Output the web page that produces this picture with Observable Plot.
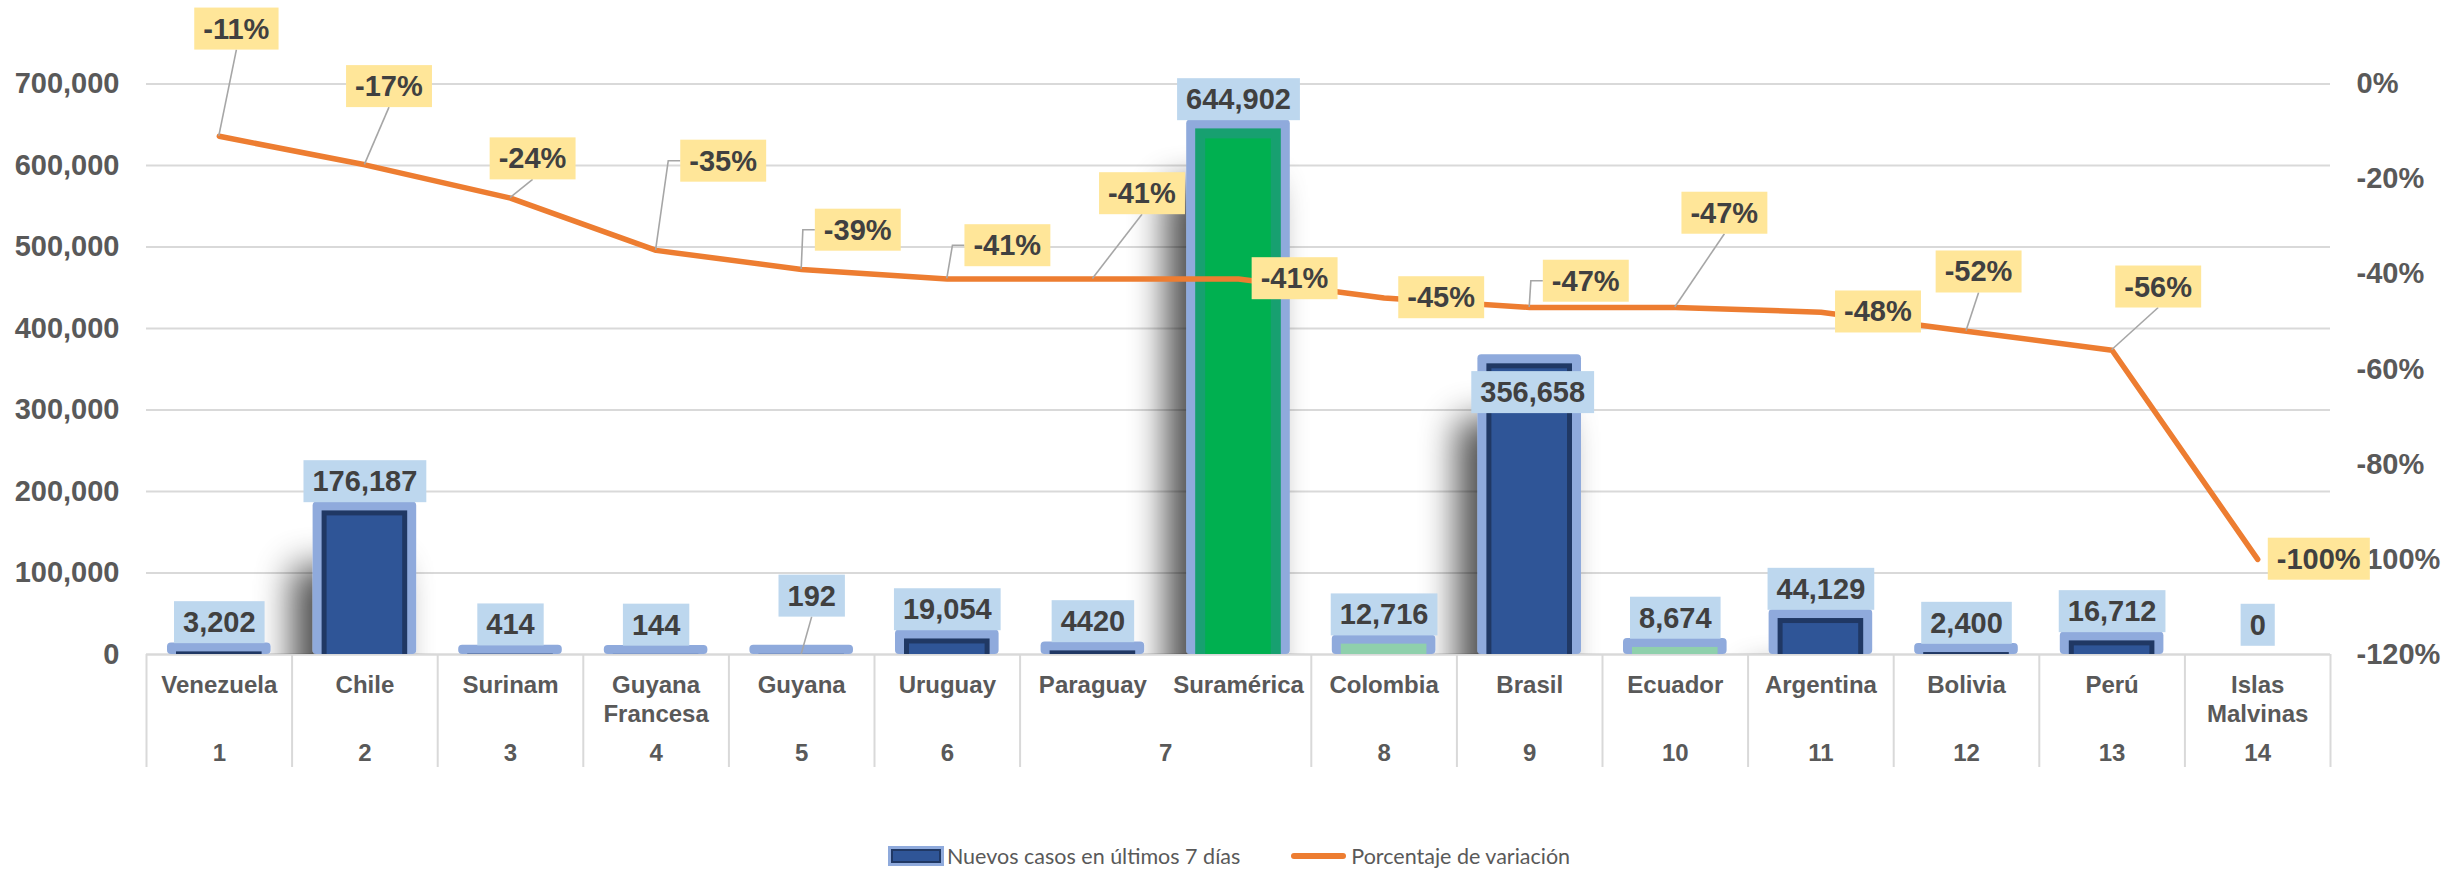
<!DOCTYPE html>
<html>
<head>
<meta charset="utf-8">
<script src="https://cdn.jsdelivr.net/npm/d3@7"></script>
<script src="https://cdn.jsdelivr.net/npm/@observablehq/plot@0.6"></script>
<style>
  html, body { margin: 0; padding: 0; background: #fff; overflow: hidden; }
  #chart svg { display: block; }
  #legend { height: 32px; display: flex; justify-content: center; align-items: center;
            font-family: Lato, "Open Sans", sans-serif; font-size: 21.5px; color: #595959; }
  #legend .item { display: flex; align-items: center; }
  #legend .sw-bar { width: 50px; height: 14px; background: #2F5597; border: 3px solid #8FAADC;
                    box-shadow: inset 0 0 0 2px #203864; margin-right: 3px; }
  #legend .sw-line { width: 55px; height: 6px; border-radius: 3px; background: #ED7D31; margin-right: 5px; }
  #legend .gap { width: 51px; }
</style>
</head>
<body>
<div id="chart"></div>
<div id="legend"></div>
<script>
// ---------- data ----------
const countries = ["Venezuela", "Chile", "Surinam", "Guyana\nFrancesa", "Guyana", "Uruguay", "Paraguay",
  "Suramérica", "Colombia", "Brasil", "Ecuador", "Argentina", "Bolivia", "Perú", "Islas\nMalvinas"];
const ranks = [1, 2, 3, 4, 5, 6, 7, 7, 8, 9, 10, 11, 12, 13, 14];
const newCases = [3202, 176187, 414, 144, 192, 19054, 4420, 644902, 12716, 356658, 8674, 44129, 2400, 16712, 0];
const caseLabels = ["3,202", "176,187", "414", "144", "192", "19,054", "4420", "644,902", "12,716", "356,658",
  "8,674", "44,129", "2,400", "16,712", "0"];
const pctChange = [-11, -17, -24, -35, -39, -41, -41, -41, -45, -47, -47, -48, -52, -56, -100];
const leftTicks = [0, 100000, 200000, 300000, 400000, 500000, 600000, 700000];
const rightTicks = [0, -20, -40, -60, -80, -100, -120];
const seriesNames = ["Nuevos casos en últimos 7 días", "Porcentaje de variación"];

// ---------- layout / style config ----------
const pctLabelOffsets = [[17, -107], [24, -78], [22, -39], [67, -89], [56, -39], [60, -33], [49, -85],
  [56, 0], [57, 0], [56, -26], [49, -94], [57, 0], [12, -59], [46, -63], [61, 0]];
const caseLabelOffsetOverrides = {"Guyana": [10, -58], "Brasil": [3, 29]};
const defaultCaseOffset = [0, -29];
const barLook = {"Suramérica": "green", "Colombia": "mint", "Ecuador": "mint"};

const W = 2458, H = 840;
const maxCases = 700000, minPct = -120;
const toY = p => (p - minPct) / (0 - minPct) * maxCases;   // map % onto the shared vertical scale

const rows = countries.map((name, i) => ({i, name, rank: ranks[i], cases: newCases[i],
  caseLabel: caseLabels[i], pct: pctChange[i]}));
const bounds = [0, ...d3.range(1, rows.length).filter(i => ranks[i] !== ranks[i - 1]), rows.length];
const rankGroups = d3.groups(rows, d => d.rank).map(([rank, g]) =>
  ({rank, center: (g[0].i + g[g.length - 1].i + 1) / 2}));
const mid = d => d.i + 0.5;
const bars = rows.filter(d => d.cases > 0);
const look = d => barLook[d.name] || "blue";
const edgeColor = d => ({green: "#17A070", mint: "#8FD0AC", blue: "#203864"})[look(d)];

const labelText = {fontSize: 29, fontWeight: "bold", fill: "#404040"};
const caseMarks = rows.map(d => {
  const [dx, dy] = caseLabelOffsetOverrides[d.name] || defaultCaseOffset;
  return Plot.text([d], {x: mid, y: "cases", text: "caseLabel", dx, dy, ...labelText, ariaLabel: () => "case-label"});
});
const pctMarks = rows.map((d, k) => {
  const [dx, dy] = pctLabelOffsets[k];
  return Plot.text([d], {x: mid, y: r => toY(r.pct), text: r => `${r.pct}%`, dx, dy, ...labelText, ariaLabel: () => "pct-label"});
});

const plot = Plot.plot({
  width: W, height: H,
  marginLeft: 146, marginRight: 128, marginTop: 83.5, marginBottom: H - 654,
  x: {type: "linear", domain: [0, rows.length], axis: null},
  y: {domain: [0, maxCases]},
  style: {fontFamily: "'Liberation Sans', Arial, sans-serif", background: "white", overflow: "visible"},
  marks: [
    Plot.gridY(leftTicks, {stroke: "#D9D9D9", strokeOpacity: 1, strokeWidth: 2}),
    Plot.axisY(leftTicks, {tickFormat: d3.format(","), tickSize: 0, tickPadding: 27, fontSize: 29,
      fontWeight: "bold", fill: "#595959", label: null}),
    Plot.axisY(rightTicks.map(toY), {anchor: "right", tickSize: 0, tickPadding: 26, fontSize: 29,
      fontWeight: "bold", fill: "#595959", label: null,
      tickFormat: v => `${Math.round(v / maxCases * (0 - minPct) + minPct)}%`}),
    Plot.ruleY([0], {stroke: "#D9D9D9", strokeWidth: 2}),
    Plot.ruleX(bounds, {x: d => d, y1: 0, y2: 0, insetBottom: -113, stroke: "#D9D9D9", strokeWidth: 2}),
    Plot.text(rows, {x: mid, y: 0, text: "name", dy: 19, lineAnchor: "top", lineHeight: 1.17,
      fontSize: 24, fontWeight: "bold", fill: "#595959"}),
    Plot.text(rankGroups, {x: "center", y: 0, text: d => String(d.rank), dy: 99,
      fontSize: 24, fontWeight: "bold", fill: "#595959"}),
    Plot.rectY(bars, {x1: "i", x2: d => d.i + 1, y1: 0, y2: "cases", insetLeft: 21, insetRight: 21,
      insetTop: -9, rx: 4, fill: "#8FAADC", ariaLabel: () => "bar-frame"}),
    Plot.rectY(bars, {x1: "i", x2: d => d.i + 1, y1: 0, y2: "cases", insetLeft: 30, insetRight: 30,
      fill: edgeColor}),
    Plot.rectY(bars.filter(d => look(d) === "blue"), {x1: "i", x2: d => d.i + 1, y1: 0, y2: "cases",
      insetLeft: 35, insetRight: 35, insetTop: 5, fill: "#2F5597"}),
    Plot.rectY(bars.filter(d => look(d) === "green"), {x1: "i", x2: d => d.i + 1, y1: 0, y2: "cases",
      insetLeft: 40, insetRight: 40, insetTop: 10, fill: "#00B050"}),
    Plot.line(rows, {x: mid, y: d => toY(d.pct), stroke: "#ED7D31", strokeWidth: 5.5,
      strokeLinecap: "round", strokeLinejoin: "round"}),
    ...caseMarks,
    ...pctMarks
  ]
});
document.getElementById("chart").append(plot);

// ---------- legend ----------
const legend = document.getElementById("legend");
legend.innerHTML = `
  <span class="item"><span class="sw-bar"></span><span>${seriesNames[0]}</span></span>
  <span class="gap"></span>
  <span class="item"><span class="sw-line"></span><span>${seriesNames[1]}</span></span>`;

// ---------- decorations: shadow, callout boxes, leader lines ----------
const ns = "http://www.w3.org/2000/svg";
const svg = plot;
const xS = plot.scale("x"), yS = plot.scale("y");
const baseY = yS.apply(0);
const defs = document.createElementNS(ns, "defs");
defs.innerHTML = `
  <filter id="barShadow" filterUnits="userSpaceOnUse" x="0" y="0" width="${W}" height="${H}">
    <feGaussianBlur in="SourceAlpha" stdDeviation="18"/>
    <feOffset dx="-20" dy="65"/>
    <feComponentTransfer><feFuncA type="linear" slope="0.7"/></feComponentTransfer>
    <feMerge><feMergeNode/><feMergeNode in="SourceGraphic"/></feMerge>
  </filter>
  <clipPath id="aboveBase"><rect x="0" y="0" width="${W}" height="${baseY}"/></clipPath>`;
svg.insertBefore(defs, svg.firstChild);
const frameRect = svg.querySelector('rect[aria-label="bar-frame"]');
if (frameRect) {
  const frameG = frameRect.parentNode;
  frameG.setAttribute("filter", "url(#barShadow)");
  const wrap = document.createElementNS(ns, "g");
  wrap.setAttribute("clip-path", "url(#aboveBase)");
  frameG.parentNode.insertBefore(wrap, frameG);
  wrap.appendChild(frameG);
}

const svgBox = svg.getBoundingClientRect();
const leaders = document.createElementNS(ns, "g");
const boxes = document.createElementNS(ns, "g");
const firstLabelText = svg.querySelector('text[aria-label="case-label"]');
let anchorNode = firstLabelText;
while (anchorNode && anchorNode.parentNode !== svg) anchorNode = anchorNode.parentNode;
svg.insertBefore(leaders, anchorNode || null);
svg.insertBefore(boxes, anchorNode || null);

function callouts(label, color, pointOf) {
  const texts = svg.querySelectorAll(`text[aria-label="${label}"]`);
  texts.forEach((t, k) => {
    const r = t.getBoundingClientRect();
    const x0 = r.left - svgBox.left - 9, x1 = r.right - svgBox.left + 9;
    const cy = r.top - svgBox.top + r.height / 2;
    const y0 = cy - 21, y1 = cy + 21;
    const rect = document.createElementNS(ns, "rect");
    rect.setAttribute("x", x0); rect.setAttribute("y", y0);
    rect.setAttribute("width", x1 - x0); rect.setAttribute("height", y1 - y0);
    rect.setAttribute("fill", color);
    boxes.appendChild(rect);
    const [px, py] = pointOf(rows[k]);
    if (py >= y0 && py <= y1) return;
    const ddx = Math.max(x0 - px, 0, px - x1), ddy = Math.max(y0 - py, 0, py - y1);
    if (Math.hypot(ddx, ddy) < 12) return;
    let pts;
    if (x0 - px > 10) pts = [[px, py], [x0 - 12, cy], [x0, cy]];
    else pts = [[px, py], [(x0 + x1) / 2, py < y0 ? y0 : y1]];
    const pl = document.createElementNS(ns, "polyline");
    pl.setAttribute("points", pts.map(p => p.join(",")).join(" "));
    pl.setAttribute("fill", "none");
    pl.setAttribute("stroke", "#A6A6A6");
    pl.setAttribute("stroke-width", 1.6);
    leaders.appendChild(pl);
  });
}
callouts("case-label", "#BDD7EE", d => [xS.apply(mid(d)), yS.apply(d.cases)]);
callouts("pct-label", "#FFE699", d => [xS.apply(mid(d)), yS.apply(toY(d.pct))]);
</script>
</body>
</html>
